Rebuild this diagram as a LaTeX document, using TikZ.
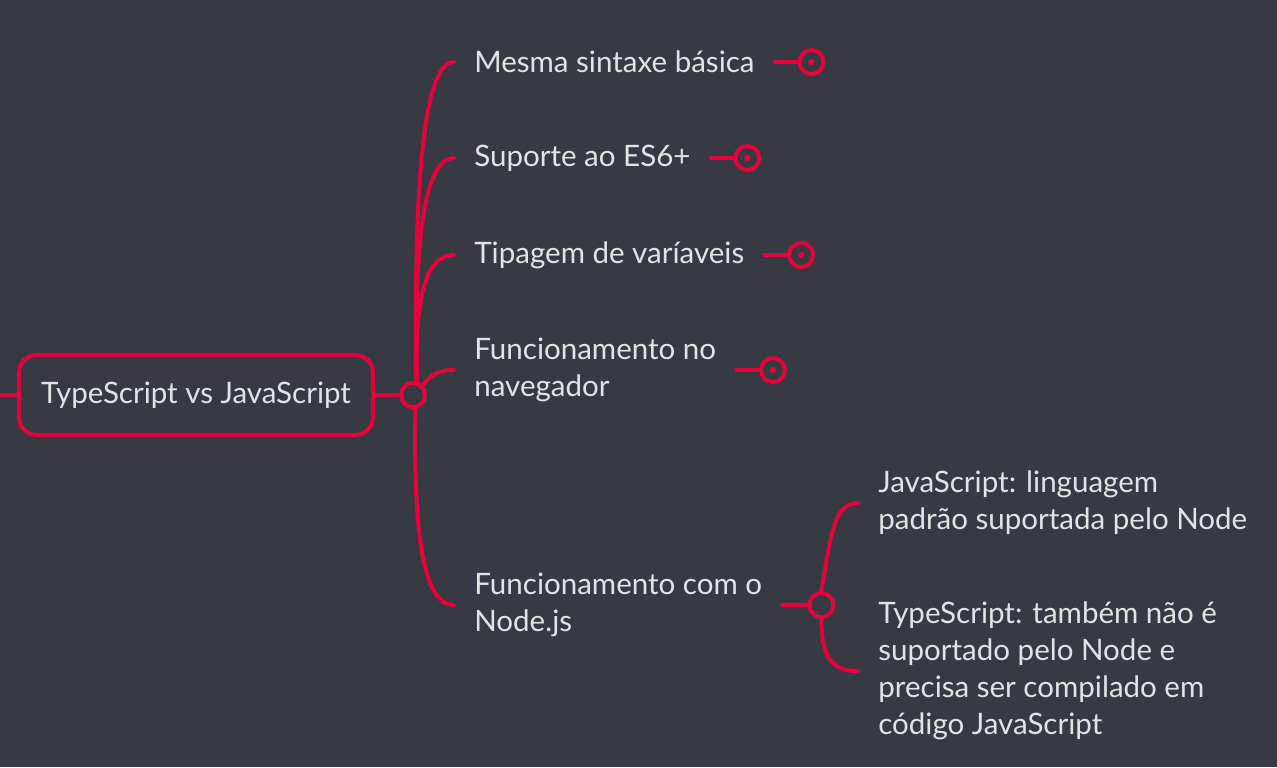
\documentclass[tikz,border=0pt]{standalone}
\usepackage{fontspec}
\setmainfont{Lato}
\usepackage{xcolor}
\usepackage{tikz}
\usetikzlibrary{positioning, calc}
\definecolor{canvas}{HTML}{373A40}
\definecolor{brand}{HTML}{E5003E}
\definecolor{ink}{HTML}{E2E3E5}
\tikzset{
    link/.style={draw=brand, line width=2.3pt, line cap=round},
    rootbox/.style={rectangle, rounded corners=10pt, draw=brand, line width=2.3pt,
                    minimum width=7.08cm, minimum height=1.6cm, align=center,
                    text=ink, font=\fontsize{16.8}{21}\selectfont},
    topic/.style={anchor=west, inner xsep=0.4cm, inner ysep=0pt, align=left,
                  text=ink, font=\fontsize{16.8}{21}\selectfont},
    hubdot/.style={circle, draw=brand, fill=canvas, line width=2.3pt,
                   minimum size=0.48cm, inner sep=0pt},
    fold/.style={hubdot, path picture={\fill[brand] (path picture bounding box.center) circle (1.8pt);}},
}

\begin{document}
\begin{tikzpicture}[x=0.02cm, y=-0.02cm]

  \fill[canvas] (0,0) rectangle (1277,767);
  \useasboundingbox (0,0) rectangle (1277,767);

  % central topic
  \coordinate (edge) at (0,395);
  \node[rootbox] (root) at (196,395) {TypeScript vs JavaScript};
  \node[hubdot, right=0.48cm of root] (hub) {};
  \draw[link] (edge) -- (root.west);
  \draw[link] (root.east) -- (hub.west);

  % main branches
  \node[topic] (c1) at (454,62)  {Mesma sintaxe básica};
  \node[topic] (c2) at (454,158) {Suporte ao ES6+};
  \node[topic] (c3) at (454,255) {Tipagem de varíaveis};
  \node[topic] (c4) at (454,370) {Funcionamento no\\navegador};
  \node[topic] (c5) at (454,605) {Funcionamento com o\\Node.js};

  \draw[link] (hub.75) to[out=91, in=180, out distance=4cm, in distance=0.6cm] (c1.west);
  \draw[link] (hub.75) to[out=91, in=180, out distance=2.8cm, in distance=0.6cm] (c2.west);
  \draw[link] (hub.75) to[out=91, in=180, out distance=1.6cm, in distance=0.6cm] (c3.west);
  \draw[link] (hub.45) to[out=50, in=180, out distance=0.3cm, in distance=0.3cm] (c4.west);
  \draw[link] (hub.-80) to[out=-91, in=180, out distance=2.6cm, in distance=0.6cm] (c5.west);

  % collapsed markers
  \node[fold, right=0.45cm of c1] (k1) {};
  \node[fold, right=0.45cm of c2] (k2) {};
  \node[fold, right=0.45cm of c3] (k3) {};
  \node[fold, right=0.45cm of c4] (k4) {};
  \foreach \i in {1,...,4}
    \draw[link] (c\i.east) -- (k\i.west);

  % Node.js sub-branches
  \node[hubdot, right=0.5cm of c5] (hub5) {};
  \draw[link] (c5.east) -- (hub5.west);
  \node[topic] (s1) at (858,503) {JavaScript: linguagem\\padrão suportada pelo Node};
  \node[topic] (s2) at (858,671) {TypeScript: também não é\\suportado pelo Node e\\precisa ser compilado em\\código JavaScript};
  \draw[link] (hub5.north) to[out=80, in=180, out distance=1.1cm, in distance=0.5cm] (s1.west);
  \draw[link] (hub5.south) to[out=-90, in=180, out distance=0.8cm, in distance=0.5cm] (s2.west);

\end{tikzpicture}
\end{document}
